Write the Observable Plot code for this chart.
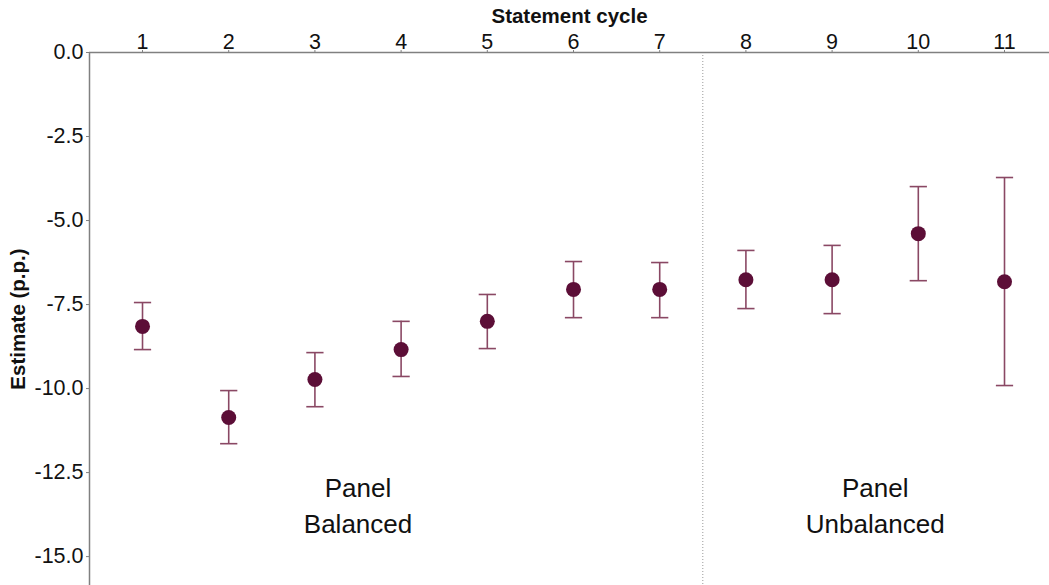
<!DOCTYPE html>
<html>
<head>
<meta charset="utf-8">
<script src="https://cdn.jsdelivr.net/npm/d3@7"></script>
<script src="https://cdn.jsdelivr.net/npm/@observablehq/plot@0.6"></script>
<style>
  html, body { margin: 0; padding: 0; background: #fff; }
  #chart svg { display: block; }
  #chart g[aria-label="x-axis tick label"], #chart g[aria-label="y-axis tick label"] { font-size: 21.5px !important; }
</style>
</head>
<body>
<div id="chart"></div>
<script>
// Data
const cycles    = [1, 2, 3, 4, 5, 6, 7, 8, 9, 10, 11];
const estimates = [-8.15, -10.86, -9.73, -8.84, -8.0, -7.05, -7.05, -6.76, -6.76, -5.39, -6.82];
const upper     = [-7.44, -10.06, -8.93, -8.0, -7.2, -6.22, -6.25, -5.89, -5.74, -3.99, -3.72];
const lower     = [-8.84, -11.64, -10.54, -9.64, -8.81, -7.89, -7.89, -7.62, -7.77, -6.79, -9.91];
const yTicks    = [0, -2.5, -5, -7.5, -10, -12.5, -15];
const panelX      = [3.5, 9.5];
const panelLabels = ["Panel\nBalanced", "Panel\nUnbalanced"];
const panelY      = -13.43;
const divider     = [7.5];
const xDomain = [0.385, 11.522];
const yDomain = [-15.86, 0];

const rows = cycles.map((c, i) => ({cycle: c, est: estimates[i], hi: upper[i], lo: lower[i]}));
const panels = panelX.map((x, i) => ({x, label: panelLabels[i]}));
const capHalf = 0.1;

const dotColor = "#5c0e37";
const barColor = "#8a4864";
const axisColor = "#808080";

const chart = Plot.plot({
  width: 1049,
  height: 585,
  marginTop: 52,
  marginLeft: 89,
  marginRight: 0,
  marginBottom: 0,
  style: {fontFamily: "'Liberation Sans', Arial, sans-serif", fontSize: "21px", color: "#111"},
  x: {domain: xDomain},
  y: {domain: yDomain},
  marks: [
    Plot.ruleX(divider, {stroke: "#999", strokeWidth: 1, strokeDasharray: "1,2"}),
    Plot.ruleY([yDomain[1]], {stroke: axisColor, strokeWidth: 1.5}),
    Plot.ruleX([xDomain[0]], {stroke: axisColor, strokeWidth: 1.5}),
    Plot.axisX({anchor: "top", ticks: cycles, tickSize: 3, tickPadding: 1, label: null, stroke: axisColor, fill: "#111", fontSize: 21.5}),
    Plot.axisY({anchor: "left", ticks: yTicks, tickSize: 3, tickPadding: 3, label: null, tickFormat: d => d.toFixed(1), stroke: axisColor, fill: "#111", fontSize: 21.5}),
    Plot.text(["Statement cycle"], {frameAnchor: "top", dy: -44, fontWeight: "bold", fontSize: 20.5, fill: "#111"}),
    Plot.text(["Estimate (p.p.)"], {frameAnchor: "left", textAnchor: "middle", rotate: -90, dx: -71, fontWeight: "bold", fontSize: 20.5, fill: "#111"}),
    Plot.ruleX(rows, {x: "cycle", y1: "lo", y2: "hi", stroke: barColor, strokeWidth: 1.6}),
    Plot.link(rows, {x1: d => d.cycle - capHalf, x2: d => d.cycle + capHalf, y1: "hi", y2: "hi", stroke: barColor, strokeWidth: 1.6}),
    Plot.link(rows, {x1: d => d.cycle - capHalf, x2: d => d.cycle + capHalf, y1: "lo", y2: "lo", stroke: barColor, strokeWidth: 1.6}),
    Plot.dot(rows, {x: "cycle", y: "est", r: 7.5, fill: dotColor, stroke: "none"}),
    Plot.text(panels, {x: "x", y: () => panelY, text: "label", fontSize: 26, lineHeight: 1.385, fill: "#111"})
  ]
});
document.getElementById("chart").appendChild(chart);
</script>
</body>
</html>
